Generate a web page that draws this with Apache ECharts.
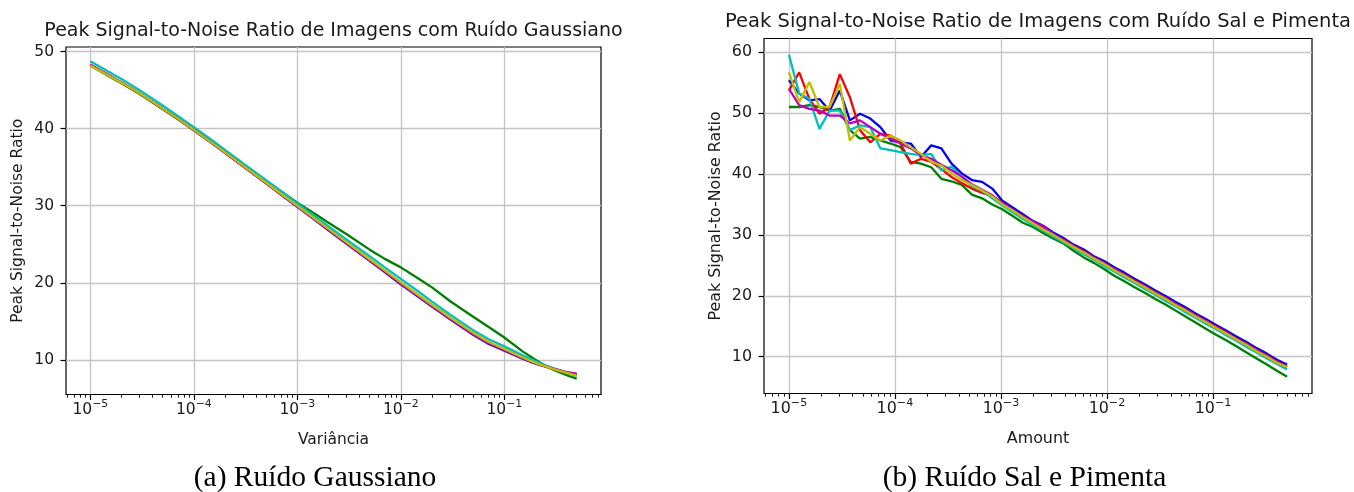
<!DOCTYPE html>
<html><head><meta charset="utf-8">
<script src="https://cdn.jsdelivr.net/npm/echarts@6/dist/echarts.min.js"></script>
<style>html,body{margin:0;padding:0;background:#fff}#c{width:1354px;height:492px}</style>
</head><body><div id="c"></div>
<script>
// ---------- Data: Gaussian noise (left) ----------
const variancia = [1e-5, 1.5e-5, 2e-5, 3e-5, 5e-5, 7e-5, 1e-4, 1.5e-4, 2e-4, 3e-4, 5e-4, 7e-4, 1e-3, 1.5e-3, 2e-3, 3e-3, 5e-3, 7e-3, 1e-2, 1.5e-2, 2e-2, 3e-2, 5e-2, 7e-2, 0.1, 0.15, 0.2, 0.25, 0.3, 0.4, 0.5];
const gaussB = [48.25, 46.9, 45.95, 44.55, 42.55, 41.25, 39.8, 38.1, 36.85, 35.1, 32.9, 31.4, 29.85, 28.1, 26.8, 25.05, 22.85, 21.4, 19.8, 18.1, 16.9, 15.25, 13.25, 12.1, 11.2, 10.15, 9.5, 9.1, 8.8, 8.35, 8.1];
const gaussG = [48.2, 46.85, 45.9, 44.5, 42.55, 41.25, 39.85, 38.2, 37.0, 35.3, 33.2, 31.85, 30.4, 28.9, 27.8, 26.3, 24.3, 23.1, 22.0, 20.5, 19.4, 17.6, 15.6, 14.3, 12.9, 11.1, 10.0, 9.2, 8.7, 8.0, 7.55];
const gaussR = [48.3, 46.95, 46.0, 44.6, 42.6, 41.3, 39.85, 38.15, 36.9, 35.15, 32.95, 31.5, 29.95, 28.2, 26.95, 25.2, 23.0, 21.55, 20.0, 18.3, 17.1, 15.45, 13.45, 12.3, 11.35, 10.3, 9.6, 9.15, 8.8, 8.3, 8.0];
const gaussC = [48.75, 47.4, 46.45, 45.0, 43.0, 41.65, 40.2, 38.5, 37.25, 35.5, 33.3, 31.85, 30.3, 28.55, 27.3, 25.6, 23.45, 22.0, 20.5, 18.8, 17.55, 15.85, 13.85, 12.7, 11.75, 10.6, 9.85, 9.3, 8.9, 8.3, 7.9];
const gaussM = [48.3, 46.95, 46.0, 44.6, 42.6, 41.3, 39.85, 38.15, 36.9, 35.12, 32.92, 31.45, 29.9, 28.15, 26.88, 25.1, 22.9, 21.45, 19.88, 18.18, 16.98, 15.32, 13.32, 12.18, 11.25, 10.2, 9.55, 9.15, 8.85, 8.4, 8.2];
const gaussY = [48.2, 46.9, 45.95, 44.6, 42.6, 41.3, 39.85, 38.15, 36.92, 35.18, 32.98, 31.52, 29.98, 28.25, 27.0, 25.25, 23.05, 21.6, 20.05, 18.35, 17.15, 15.5, 13.5, 12.35, 11.4, 10.3, 9.6, 9.15, 8.8, 8.3, 7.95];

// ---------- Data: Salt & pepper noise (right) ----------
const amount = [1.00e-5, 1.25e-5, 1.56e-5, 1.94e-5, 2.42e-5, 3.02e-5, 3.76e-5, 4.69e-5, 5.85e-5, 7.29e-5,
  9.10e-5, 1.13e-4, 1.41e-4, 1.76e-4, 2.20e-4, 2.74e-4, 3.42e-4, 4.27e-4, 5.32e-4, 6.64e-4,
  8.28e-4, 1.03e-3, 1.29e-3, 1.61e-3, 2.00e-3, 2.50e-3, 3.11e-3, 3.88e-3, 4.84e-3, 6.04e-3,
  7.53e-3, 9.39e-3, 1.17e-2, 1.46e-2, 1.82e-2, 2.27e-2, 2.83e-2, 3.53e-2, 4.41e-2, 5.50e-2,
  6.85e-2, 8.55e-2, 0.107, 0.133, 0.166, 0.207, 0.258, 0.322, 0.401, 0.5];
const spB = [55.4, 53.2, 52.1, 52.3, 50.4, 53.7, 48.8, 49.9, 49.1, 47.7, 45.5, 45.2, 45.0, 42.8, 44.7, 44.2, 41.7, 40.1, 39.0, 38.7, 37.6, 35.6, 34.5, 33.4, 32.3, 31.5, 30.4, 29.5, 28.4, 27.6, 26.5, 25.7, 24.7, 23.8, 22.8, 21.9, 20.9, 20.0, 19.0, 18.1, 17.1, 16.2, 15.2, 14.3, 13.3, 12.4, 11.4, 10.5, 9.5, 8.7];
const spG = [51.0, 51.0, 51.3, 51.0, 50.4, 50.7, 47.2, 45.8, 46.1, 45.5, 45.0, 44.4, 42.0, 41.7, 41.1, 39.2, 38.8, 38.2, 36.6, 36.0, 35.0, 34.2, 33.1, 32.0, 31.3, 30.3, 29.4, 28.6, 27.4, 26.3, 25.4, 24.4, 23.3, 22.4, 21.4, 20.5, 19.5, 18.6, 17.6, 16.6, 15.6, 14.6, 13.6, 12.7, 11.7, 10.7, 9.7, 8.7, 7.7, 6.7];
const spR = [53.7, 56.7, 52.3, 49.9, 51.0, 56.4, 52.6, 47.2, 45.2, 46.6, 46.3, 45.0, 41.7, 42.5, 42.0, 40.8, 39.5, 38.5, 37.6, 36.9, 36.4, 35.3, 34.1, 33.1, 32.1, 31.2, 30.1, 29.2, 28.2, 27.3, 26.3, 25.4, 24.4, 23.5, 22.5, 21.6, 20.6, 19.7, 18.7, 17.8, 16.8, 15.9, 14.9, 14.0, 13.0, 12.1, 11.1, 10.2, 9.2, 8.4];
const spC = [59.6, 53.2, 52.3, 47.4, 50.4, 50.4, 47.2, 48.0, 47.7, 44.2, 43.9, 43.6, 43.3, 43.1, 43.3, 40.6, 41.2, 39.5, 38.0, 37.2, 36.0, 34.8, 33.7, 32.6, 31.6, 30.7, 29.7, 28.8, 27.8, 26.8, 25.9, 24.9, 24.0, 23.0, 22.1, 21.1, 20.2, 19.2, 18.3, 17.3, 16.4, 15.4, 14.5, 13.5, 12.6, 11.6, 10.7, 9.7, 8.8, 7.9];
const spM = [54.0, 51.3, 50.7, 50.4, 49.6, 49.6, 48.3, 48.8, 47.7, 46.6, 45.8, 45.0, 44.2, 43.1, 42.5, 41.5, 40.6, 39.6, 38.3, 37.4, 36.5, 35.2, 34.1, 33.0, 32.2, 31.4, 30.1, 29.1, 28.1, 27.2, 26.2, 25.3, 24.3, 23.4, 22.4, 21.5, 20.5, 19.6, 18.6, 17.7, 16.7, 15.8, 14.8, 13.9, 12.9, 12.0, 11.0, 10.1, 9.1, 8.3];
const spY = [56.7, 51.8, 55.1, 51.0, 51.0, 54.8, 45.5, 47.7, 46.6, 45.5, 46.3, 45.5, 44.4, 43.3, 42.0, 41.4, 40.1, 39.0, 38.2, 37.3, 36.3, 35.0, 34.0, 32.9, 31.9, 30.9, 30.0, 29.0, 28.0, 27.1, 26.1, 25.2, 24.2, 23.3, 22.3, 21.4, 20.4, 19.5, 18.5, 17.6, 16.6, 15.7, 14.7, 13.8, 12.8, 11.9, 10.9, 10.0, 9.0, 8.3];

// ---------- Tick labels / texts ----------
const xTickExp = [-5, -4, -3, -2, -1];
const yTicksG = [10, 20, 30, 40, 50];
const yTicksS = [10, 20, 30, 40, 50, 60];
const titleG = 'Peak Signal-to-Noise Ratio de Imagens com Ruído Gaussiano';
const titleS = 'Peak Signal-to-Noise Ratio de Imagens com Ruído Sal e Pimenta';
const yName = 'Peak Signal-to-Noise Ratio';
const xNameG = 'Variância';
const xNameS = 'Amount';
const captionA = '(a) Ruído Gaussiano';
const captionB = '(b) Ruído Sal e Pimenta';

// ---------- Build ----------
const FONT = 'DejaVu Sans';
const TXT = '#1a1a1a';
const COLORS = {b: '#0000ff', g: '#008000', r: '#ff0000', c: '#00bfbf', m: '#bf00bf', y: '#bfbf00'};
function expLabel(v) {
  const e = Math.round(v);
  return '{n|10}{s|' + (e < 0 ? '\u2212' : '') + Math.abs(e) + '}';
}
const minorTicks = [];
for (let n = -6; n <= 0; n++) for (let k = 2; k <= 9; k++) minorTicks.push(n + Math.log10(k));

const XG = [-5.235, -0.066];
const XS = [-5.235, -0.066];

function majorX(grid, range, name, fs, gap) {
  return {
    gridIndex: grid, type: 'value', min: range[0], max: range[1],
    name: name, nameLocation: 'middle', nameGap: gap,
    nameTextStyle: {fontFamily: FONT, fontSize: fs, color: TXT},
    axisLine: {show: false, onZero: false},
    axisTick: {show: true, customValues: xTickExp, length: 5.5, lineStyle: {color: '#000', width: 1.2}},
    axisLabel: {
      customValues: xTickExp, formatter: expLabel, margin: 4, color: TXT,
      rich: {
        n: {fontFamily: FONT, fontSize: fs, color: TXT, lineHeight: 22, verticalAlign: 'middle'},
        s: {fontFamily: FONT, fontSize: fs * 0.7, color: TXT, lineHeight: 11, verticalAlign: 'top'}
      }
    },
    splitLine: {show: true, lineStyle: {color: '#c4c4c4', width: 1.3}}
  };
}
function minorX(grid, range) {
  return {
    gridIndex: grid, type: 'value', min: range[0], max: range[1], position: 'bottom',
    axisLine: {show: false, onZero: false},
    axisTick: {show: true, customValues: minorTicks, length: 3.2, lineStyle: {color: '#000', width: 0.9}},
    axisLabel: {show: false}, splitLine: {show: false}
  };
}
function yAx(grid, min, max, ticks, fs) {
  return {
    gridIndex: grid, type: 'value', min: min, max: max,
    name: yName, nameLocation: 'middle', nameGap: 40, nameRotate: 90,
    nameTextStyle: {fontFamily: FONT, fontSize: fs, color: TXT},
    axisLine: {show: false, onZero: false},
    axisTick: {show: true, customValues: ticks, length: 5.5, lineStyle: {color: '#000', width: 1.2}},
    axisLabel: {customValues: ticks, margin: 12, fontFamily: FONT, fontSize: fs, color: TXT},
    splitLine: {show: true, lineStyle: {color: '#c4c4c4', width: 1.3}}
  };
}
function line(xs, ys, col, xi, yi) {
  return {
    type: 'line', xAxisIndex: xi, yAxisIndex: yi, showSymbol: false, symbol: 'none',
    data: xs.map((x, i) => [Math.log10(x), ys[i]]),
    lineStyle: {color: col, width: 2.3}, itemStyle: {color: col}, emphasis: {disabled: true}
  };
}

const seriesG = [['b', gaussB], ['g', gaussG], ['r', gaussR], ['c', gaussC], ['m', gaussM], ['y', gaussY]];
const seriesS = [['b', spB], ['g', spG], ['r', spR], ['c', spC], ['m', spM], ['y', spY]];

const option = {
  animation: false,
  backgroundColor: '#fff',
  grid: [
    {left: 66, top: 47, width: 535, height: 347.5, show: true, borderColor: '#000', borderWidth: 1.2, backgroundColor: 'transparent'},
    {left: 764, top: 38.5, width: 548, height: 355, show: true, borderColor: '#000', borderWidth: 1.2, backgroundColor: 'transparent'}
  ],
  xAxis: [
    majorX(0, XG, xNameG, 15.5, 37), minorX(0, XG),
    majorX(1, XS, xNameS, 15.9, 37), minorX(1, XS)
  ],
  yAxis: [
    yAx(0, 5.5, 50.6, yTicksG, 15.5),
    yAx(1, 3.95, 62.25, yTicksS, 15.9)
  ],
  series: [
    ...seriesG.map(s => line(variancia, s[1], COLORS[s[0]], 0, 0)),
    ...seriesS.map(s => line(amount, s[1], COLORS[s[0]], 2, 1))
  ],
  graphic: [
    {type: 'text', x: 333.5, y: 31.5, style: {text: titleG, fontFamily: FONT, fontSize: 19, fill: TXT, align: 'center', verticalAlign: 'middle'}},
    {type: 'text', x: 1038, y: 22, style: {text: titleS, fontFamily: FONT, fontSize: 19.5, fill: TXT, align: 'center', verticalAlign: 'middle'}},
    {type: 'text', x: 315, y: 478, style: {text: captionA, fontFamily: 'Liberation Serif', fontSize: 29.5, fill: '#000', align: 'center', verticalAlign: 'middle'}},
    {type: 'text', x: 1024.5, y: 478, style: {text: captionB, fontFamily: 'Liberation Serif', fontSize: 29.5, fill: '#000', align: 'center', verticalAlign: 'middle'}}
  ]
};
const chart = echarts.init(document.getElementById('c'), null, {renderer: 'canvas'});
chart.setOption(option);
</script>
</body></html>
